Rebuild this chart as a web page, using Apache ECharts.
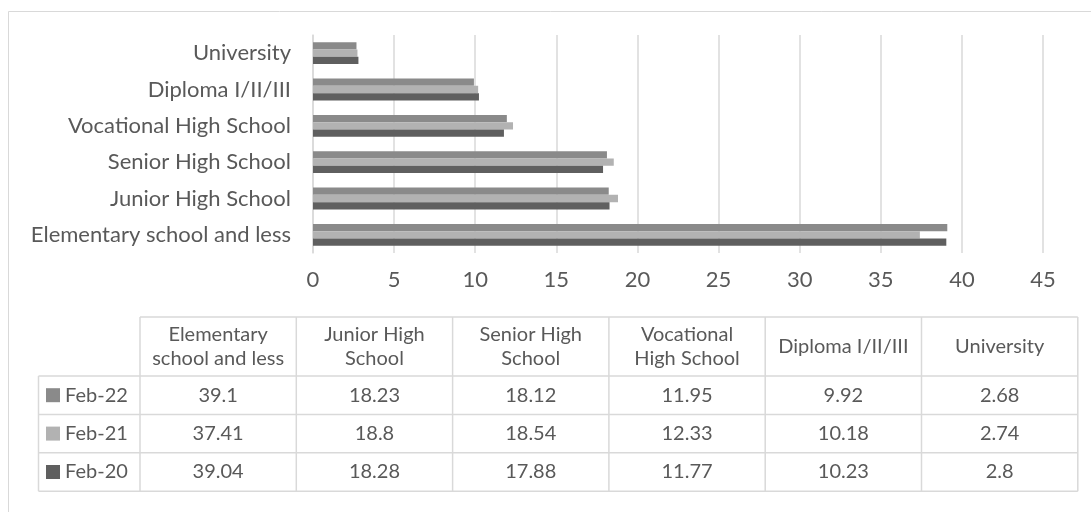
<!DOCTYPE html>
<html>
<head>
<meta charset="utf-8">
<script src="https://cdn.jsdelivr.net/npm/echarts@6/dist/echarts.min.js"></script>
<style>
  html, body { margin: 0; padding: 0; background: #fff; }
  #main { width: 1091px; height: 512px; }
</style>
</head>
<body>
<div id="main"></div>
<script>
// categories, bottom to top on the y axis (same order as the table columns)
const categories = ['Elementary school and less', 'Junior High School', 'Senior High School',
    'Vocational High School', 'Diploma I/II/III', 'University'];
const tableHeaders = ['Elementary\nschool and less', 'Junior High\nSchool', 'Senior High\nSchool',
    'Vocational\nHigh School', 'Diploma I/II/III', 'University'];

const feb22 = [39.1, 18.23, 18.12, 11.95, 9.92, 2.68];
const feb21 = [37.41, 18.8, 18.54, 12.33, 10.18, 2.74];
const feb20 = [39.04, 18.28, 17.88, 11.77, 10.23, 2.8];

const seriesNames = ['Feb-22', 'Feb-21', 'Feb-20'];
const seriesData = [feb22, feb21, feb20];
const seriesColors = ['#8a8a8a', '#b2b2b2', '#5f5f5f'];

const xTicks = [0, 45, 5]; // min, max, interval

const FONT = 'Lato, "Open Sans", sans-serif';
const TXT = '#595959';
const LINE = '#d9d9d9';
const FS = 22;   // axis labels
const TFS = 20;  // table text

const chart = echarts.init(document.getElementById('main'));

// data table under the chart
let graphics = [];
graphics.push({
    type: 'rect', silent: true,
    shape: { x: 8.5, y: 11.5, width: 1200, height: 600 },
    style: { fill: 'none', stroke: LINE, lineWidth: 1 }
});

const tblLeft = 38.5, colStart = 140, colW = 156.3;
const rowTop = 317, headH = 59, rowH = 38.4;
const tblRight = colStart + colW * 6;

function hline(x1, x2, y) {
    graphics.push({ type: 'line', silent: true, shape: { x1: x1, y1: y, x2: x2, y2: y },
        style: { stroke: LINE, lineWidth: 1.5 } });
}
function vline(x, y1, y2) {
    graphics.push({ type: 'line', silent: true, shape: { x1: x, y1: y1, x2: x, y2: y2 },
        style: { stroke: LINE, lineWidth: 1.5 } });
}

const bodyTop = rowTop + headH;
const bodyBottom = bodyTop + rowH * 3;
hline(colStart, tblRight, rowTop);
for (let r = 0; r <= 3; r++) hline(tblLeft, tblRight, bodyTop + rowH * r);
vline(tblLeft, bodyTop, bodyBottom);
for (let c = 0; c <= 6; c++) vline(colStart + colW * c, rowTop, bodyBottom);

tableHeaders.forEach(function (h, c) {
    graphics.push({
        type: 'text', silent: true,
        x: colStart + colW * (c + 0.5), y: rowTop + headH / 2,
        style: { text: h, fill: TXT, font: TFS + 'px ' + FONT, align: 'center', verticalAlign: 'middle', lineHeight: 24 }
    });
});

seriesNames.forEach(function (name, r) {
    const cy = bodyTop + rowH * (r + 0.5);
    graphics.push({
        type: 'rect', silent: true,
        shape: { x: 46, y: cy - 7, width: 14, height: 14 },
        style: { fill: seriesColors[r] }
    });
    graphics.push({
        type: 'text', silent: true, x: 65, y: cy,
        style: { text: name, fill: TXT, font: TFS + 'px ' + FONT, verticalAlign: 'middle' }
    });
    seriesData[r].forEach(function (v, c) {
        graphics.push({
            type: 'text', silent: true,
            x: colStart + colW * (c + 0.5), y: cy,
            style: { text: String(v), fill: TXT, font: TFS + 'px ' + FONT, align: 'center', verticalAlign: 'middle' }
        });
    });
});

// bars: in echarts the first series sits at the top of each group
const option = {
    animation: false,
    backgroundColor: '#fff',
    grid: { left: 313, right: 48, top: 35, height: 218 },
    xAxis: {
        type: 'value',
        min: xTicks[0], max: xTicks[1], interval: xTicks[2],
        axisLine: { show: false },
        axisTick: { show: false },
        axisLabel: { color: TXT, fontFamily: FONT, fontSize: FS, margin: 16 },
        splitLine: { lineStyle: { color: LINE, width: 1.5 } }
    },
    yAxis: {
        type: 'category',
        data: categories,
        axisLine: { lineStyle: { color: LINE, width: 1.5 } },
        axisTick: { show: false },
        axisLabel: { color: TXT, fontFamily: FONT, fontSize: FS, margin: 22 }
    },
    series: seriesNames.map(function (name, i) {
        return {
            name: name,
            type: 'bar',
            data: seriesData[i],
            itemStyle: { color: seriesColors[i] },
            barGap: '0%',
            barCategoryGap: '40%'
        };
    }),
    graphic: graphics
};

chart.setOption(option);
</script>
</body>
</html>
